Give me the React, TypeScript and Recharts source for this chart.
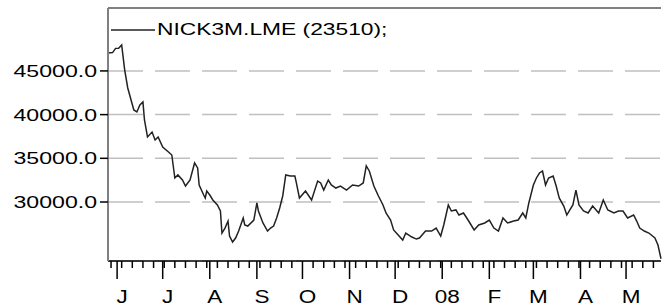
import React from "react";
import {
  LineChart,
  Line,
  XAxis,
  YAxis,
  CartesianGrid,
  ReferenceLine,
  Legend,
} from "recharts";

// day 0 = 2007-06-01
const days = [
  -6, -3, -1, 1, 3, 5, 7, 11, 13, 15, 17, 18, 20, 23, 25, 27, 30, 34, 36, 38,
  40, 43, 45, 48, 51, 53, 54, 57, 58, 59, 61, 63, 66, 68, 69, 71, 73, 74, 76,
  78, 80, 83, 84, 86, 90, 92, 93, 96, 99, 101, 103, 105, 107, 109, 111, 114,
  117, 118, 120, 124, 128, 132, 134, 136, 139, 141, 144, 147, 151, 155, 159,
  162, 164, 166, 169, 172, 175, 177, 180, 182, 185, 188, 190, 194, 197, 199,
  203, 207, 210, 213, 215, 218, 220, 223, 225, 228, 231, 235, 238, 242, 245,
  248, 251, 254, 257, 261, 264, 267, 269, 271, 274, 276, 278, 280, 282, 284,
  287, 289, 291, 294, 296, 298, 300, 302, 304, 307, 310, 313, 317, 320, 323,
  327, 330, 333, 336, 340, 342, 344, 347, 350, 354, 356, 358,
];

const prices = [
  47060, 47100, 47580, 47600, 47980, 45100, 43050, 40530, 40300, 41100, 41450,
  39390, 37440, 38000, 37100, 37440, 36300, 35700, 35380, 32750, 33100, 32520,
  31830, 32520, 34470, 33900, 31950, 30800, 30460, 31260, 30800, 30230, 29660,
  28970, 26450, 27020, 27820, 26110, 25420, 25880, 26680, 28170, 27370, 27250,
  27940, 29890, 28970, 27600, 26680, 27020, 27250, 28170, 29320, 30690, 33100,
  32980, 32980, 32180, 30460, 31260, 30230, 32400, 32180, 31370, 32520, 31950,
  31600, 31830, 31370, 31950, 31830, 32180, 34130, 33550, 31830, 30690, 29660,
  28740, 27940, 26800, 26220, 25650, 26450, 25990, 25760, 25880, 26680, 26680,
  27020, 26110, 27370, 29660, 28970, 29090, 28510, 28740, 27940, 26800, 27370,
  27600, 27940, 27020, 26680, 28170, 27600, 27820, 27940, 28740, 28170, 29890,
  31950, 32750, 33320, 33550, 31950, 32750, 32980, 31830, 30460, 29540, 28510,
  29090, 29660, 31370, 29660, 28970, 28740, 29540, 28740, 30230, 29090, 28740,
  28970, 28970, 28170, 28510, 27820, 27020, 26680, 26450, 25880, 25080, 23510,
];

const monthDays = [0, 30, 61, 92, 122, 153, 183, 214, 245, 274, 305, 335];
const monthLabels = ["J", "J", "A", "S", "O", "N", "D", "08", "F", "M", "A", "M"];
const yTicks = [30000, 35000, 40000, 45000];

const weekDays: number[] = [];
for (let d = -4; d <= 358; d += 7) weekDays.push(d);
const allTicks = Array.from(new Set([...weekDays, ...monthDays])).sort((a, b) => a - b);

const data = days.map((d, i) => ({ d, price: prices[i] }));

const FONT = "'Liberation Sans', Arial, sans-serif";

function XTick(props: any) {
  const { x, y, payload } = props;
  const idx = monthDays.indexOf(payload.value);
  if (idx < 0) {
    return <line x1={x} x2={x} y1={y} y2={y + 7} stroke="#000" strokeWidth={1.5} />;
  }
  return (
    <g>
      <line x1={x} x2={x} y1={y} y2={y + 18} stroke="#000" strokeWidth={1.5} />
      <g transform={`translate(${x + 5},${y + 42}) scale(1.25,1)`}>
        <text textAnchor="middle" fontSize={18} fontFamily={FONT} fill="#000">
          {monthLabels[idx]}
        </text>
      </g>
    </g>
  );
}

function YTick(props: any) {
  const { x, y, payload } = props;
  return (
    <g transform={`translate(${x},${y}) scale(1.4,1)`}>
      <text textAnchor="end" dy="0.36em" fontSize={16.5} fontFamily={FONT} fill="#000">
        {payload.value.toFixed(1)}
      </text>
    </g>
  );
}

function LegendBox() {
  return (
    <div style={{ display: "flex", alignItems: "center", fontFamily: FONT }}>
      <svg width={44} height={4}>
        <line x1={0} x2={44} y1={2} y2={2} stroke="#222" strokeWidth={1.5} />
      </svg>
      <span
        style={{
          display: "inline-block",
          fontSize: 17,
          marginLeft: 2,
          whiteSpace: "nowrap",
          transform: "scaleX(1.34)",
          transformOrigin: "left center",
          color: "#000",
        }}
      >
        NICK3M.LME (23510);
      </span>
    </div>
  );
}

export default function App() {
  return (
    <div style={{ position: "absolute", left: 0, top: 0, background: "#fff" }}>
      <LineChart
        width={662}
        height={306}
        data={data}
        margin={{ top: 8, right: 1, bottom: 0, left: 0 }}
      >
        <CartesianGrid
          vertical={false}
          stroke="#c0c0c0"
          strokeWidth={1.5}
          strokeDasharray="35 12"
        />
        <XAxis
          dataKey="d"
          type="number"
          domain={["dataMin", "dataMax"]}
          ticks={allTicks}
          interval={0}
          height={45}
          tickSize={0}
          tickMargin={0}
          tickLine={false}
          axisLine={{ stroke: "#000", strokeWidth: 1.5 }}
          tick={<XTick />}
        />
        <YAxis
          type="number"
          domain={[23250, 52200]}
          ticks={yTicks}
          width={108}
          tickSize={8}
          tickMargin={3}
          tickLine={{ stroke: "#000", strokeWidth: 1.5 }}
          axisLine={{ stroke: "#808080", strokeWidth: 2 }}
          tick={<YTick />}
          allowDataOverflow
        />
        <ReferenceLine y={52200} stroke="#808080" strokeWidth={2} />
        <Legend
          layout="horizontal"
          verticalAlign="middle"
          align="center"
          content={() => <LegendBox />}
          wrapperStyle={{ top: 20, left: 111, width: "auto" }}
        />
        <Line
          type="linear"
          dataKey="price"
          stroke="#222"
          strokeWidth={1.5}
          dot={false}
          isAnimationActive={false}
        />
      </LineChart>
    </div>
  );
}
